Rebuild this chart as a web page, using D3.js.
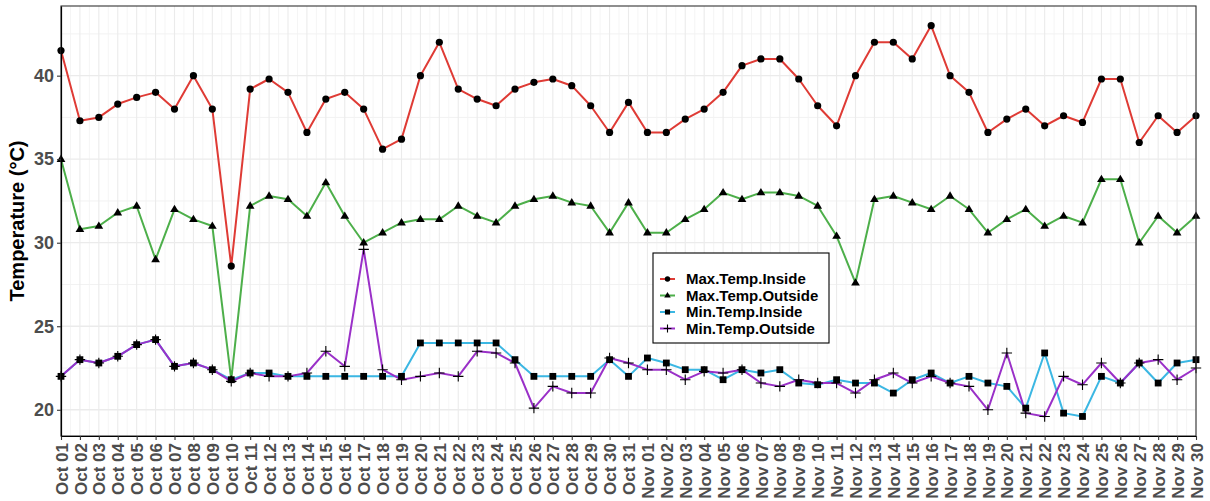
<!DOCTYPE html>
<html>
<head>
<meta charset="utf-8">
<script src="https://cdn.jsdelivr.net/npm/d3@7"></script>
<style>
  html, body { margin: 0; padding: 0; background: #fff; }
  svg { display: block; font-family: "Liberation Sans", Arial, sans-serif; }
</style>
</head>
<body>
<svg id="chart" width="1210" height="501"></svg>
<script>
const dateLabels = [
  "Oct 01","Oct 02","Oct 03","Oct 04","Oct 05","Oct 06","Oct 07","Oct 08","Oct 09","Oct 10",
  "Oct 11","Oct 12","Oct 13","Oct 14","Oct 15","Oct 16","Oct 17","Oct 18","Oct 19","Oct 20",
  "Oct 21","Oct 22","Oct 23","Oct 24","Oct 25","Oct 26","Oct 27","Oct 28","Oct 29","Oct 30","Oct 31",
  "Nov 01","Nov 02","Nov 03","Nov 04","Nov 05","Nov 06","Nov 07","Nov 08","Nov 09","Nov 10",
  "Nov 11","Nov 12","Nov 13","Nov 14","Nov 15","Nov 16","Nov 17","Nov 18","Nov 19","Nov 20",
  "Nov 21","Nov 22","Nov 23","Nov 24","Nov 25","Nov 26","Nov 27","Nov 28","Nov 29","Nov 30"
];

const maxTempInside = [
  41.5,37.3,37.5,38.3,38.7,39.0,38.0,40.0,38.0,28.6,
  39.2,39.8,39.0,36.6,38.6,39.0,38.0,35.6,36.2,40.0,
  42.0,39.2,38.6,38.2,39.2,39.6,39.8,39.4,38.2,36.6,38.4,
  36.6,36.6,37.4,38.0,39.0,40.6,41.0,41.0,39.8,38.2,
  37.0,40.0,42.0,42.0,41.0,43.0,40.0,39.0,36.6,37.4,
  38.0,37.0,37.6,37.2,39.8,39.8,36.0,37.6,36.6,37.6
];
const maxTempOutside = [
  35.0,30.8,31.0,31.8,32.2,29.0,32.0,31.4,31.0,21.8,
  32.2,32.8,32.6,31.6,33.6,31.6,30.0,30.6,31.2,31.4,
  31.4,32.2,31.6,31.2,32.2,32.6,32.8,32.4,32.2,30.6,32.4,
  30.6,30.6,31.4,32.0,33.0,32.6,33.0,33.0,32.8,32.2,
  30.4,27.6,32.6,32.8,32.4,32.0,32.8,32.0,30.6,31.4,
  32.0,31.0,31.6,31.2,33.8,33.8,30.0,31.6,30.6,31.6
];
const minTempInside = [
  22.0,23.0,22.8,23.2,23.9,24.2,22.6,22.8,22.4,21.8,
  22.2,22.2,22.0,22.0,22.0,22.0,22.0,22.0,22.0,24.0,
  24.0,24.0,24.0,24.0,23.0,22.0,22.0,22.0,22.0,23.0,22.0,
  23.1,22.8,22.4,22.4,21.8,22.4,22.2,22.4,21.6,21.5,
  21.8,21.6,21.6,21.0,21.8,22.2,21.6,22.0,21.6,21.4,
  20.1,23.4,19.8,19.6,22.0,21.6,22.8,21.6,22.8,23.0
];
const minTempOutside = [
  22.0,23.0,22.8,23.2,23.9,24.2,22.6,22.8,22.4,21.7,
  22.2,22.0,22.0,22.2,23.5,22.6,29.6,22.4,21.8,22.0,
  22.2,22.0,23.5,23.4,22.8,20.1,21.4,21.0,21.0,23.1,22.8,
  22.4,22.4,21.8,22.3,22.2,22.4,21.6,21.4,21.8,21.6,
  21.6,21.0,21.8,22.2,21.6,22.0,21.6,21.4,20.0,23.4,
  19.8,19.6,22.0,21.5,22.8,21.6,22.8,23.0,21.8,22.5
];

const seriesNames = ["Max.Temp.Inside","Max.Temp.Outside","Min.Temp.Inside","Min.Temp.Outside"];
const seriesValues = [maxTempInside, maxTempOutside, minTempInside, minTempOutside];
const seriesColors = ["#DF3B35","#4DAF4A","#3BB7E3","#9A30C8"];
const seriesShapes = ["circle","triangle","square","plus"];
const yTicks = [20, 25, 30, 35, 40];
const yMinorTicks = [22.5, 27.5, 32.5, 37.5, 42.5];
const yTitle = "Temperature (°C)";

const svg = d3.select("#chart");
const margin = { left: 61, right: 14, top: 6, bottom: 65 };
const W = 1210, H = 501;
const x0 = margin.left, x1 = W - margin.right, y0 = margin.top, y1 = H - margin.bottom;

const idx = d3.range(dateLabels.length);
const x = d3.scaleLinear().domain([0, dateLabels.length - 1]).range([x0, x1]);

const allVals = seriesValues.flat();
const vmin = d3.min(allVals), vmax = d3.max(allVals);
const pad = (vmax - vmin) * 0.05;
const y = d3.scaleLinear().domain([vmin - pad, vmax + pad]).range([y1, y0]);

// panel background
svg.append("rect").attr("x", x0).attr("y", y0).attr("width", x1 - x0).attr("height", y1 - y0).attr("fill", "#fff");

// grid - minor
const grid = svg.append("g");
const xMinor = d3.range(0.5, dateLabels.length - 1, 1);
grid.selectAll("line.xminor").data(xMinor).join("line")
  .attr("x1", d => x(d)).attr("x2", d => x(d)).attr("y1", y0).attr("y2", y1)
  .attr("stroke", "#f2f2f2").attr("stroke-width", 0.8);
grid.selectAll("line.yminor").data(yMinorTicks).join("line")
  .attr("x1", x0).attr("x2", x1).attr("y1", d => y(d)).attr("y2", d => y(d))
  .attr("stroke", "#f2f2f2").attr("stroke-width", 1);
// grid - major
grid.selectAll("line.xmajor").data(idx).join("line")
  .attr("x1", d => x(d)).attr("x2", d => x(d)).attr("y1", y0).attr("y2", y1)
  .attr("stroke", "#ebebeb").attr("stroke-width", 1.1);
grid.selectAll("line.ymajor").data(yTicks).join("line")
  .attr("x1", x0).attr("x2", x1).attr("y1", d => y(d)).attr("y2", d => y(d))
  .attr("stroke", "#ebebeb").attr("stroke-width", 1.3);

// lines
const line = d3.line().x((d, i) => x(i)).y(d => y(d));
const linesG = svg.append("g");
seriesValues.forEach((vals, s) => {
  linesG.append("path").datum(vals).attr("d", line)
    .attr("fill", "none").attr("stroke", seriesColors[s]).attr("stroke-width", 2)
    .attr("stroke-linejoin", "round");
});

// markers
function drawShape(g, shape, cx, cy, scale) {
  scale = scale || 1;
  if (shape === "circle") {
    g.append("circle").attr("cx", cx).attr("cy", cy).attr("r", 3.6 * scale).attr("fill", "#000");
  } else if (shape === "triangle") {
    const r = 4.6 * scale;
    g.append("path").attr("d", `M${cx},${cy - r} L${cx + r * 0.95},${cy + r * 0.6} L${cx - r * 0.95},${cy + r * 0.6} Z`).attr("fill", "#000");
  } else if (shape === "square") {
    const s = 3.4 * scale;
    g.append("rect").attr("x", cx - s).attr("y", cy - s).attr("width", 2 * s).attr("height", 2 * s).attr("fill", "#000");
  } else {
    const s = 5.2 * scale;
    g.append("path").attr("d", `M${cx - s},${cy} H${cx + s} M${cx},${cy - s} V${cx === cx ? cy + s : 0}`)
      .attr("stroke", "#000").attr("stroke-width", 1.1).attr("fill", "none");
  }
}
const ptsG = svg.append("g");
seriesValues.forEach((vals, s) => {
  vals.forEach((v, i) => drawShape(ptsG, seriesShapes[s], x(i), y(v)));
});

// panel border
svg.append("rect").attr("x", x0).attr("y", y0).attr("width", x1 - x0).attr("height", y1 - y0)
  .attr("fill", "none").attr("stroke", "#333").attr("stroke-width", 1.1);

// axes
const xAxis = d3.axisBottom(x).tickValues(idx).tickFormat(i => dateLabels[i]).tickSize(4).tickSizeOuter(0);
const gx = svg.append("g").attr("transform", `translate(0,${y1})`).call(xAxis);
gx.select(".domain").attr("stroke", "#000").attr("stroke-width", 1.2);
gx.selectAll(".tick line").attr("stroke", "#333").attr("stroke-width", 1.1);
gx.selectAll(".tick text")
  .attr("font-family", "'Liberation Sans', Arial, sans-serif")
  .attr("font-size", 17).attr("font-weight", "bold").attr("fill", "#4d4d4d")
  .attr("transform", "rotate(-90)")
  .attr("text-anchor", "end")
  .attr("x", -7).attr("y", 0).attr("dy", "0.36em");

const yAxis = d3.axisLeft(y).tickValues(yTicks).tickSize(4).tickSizeOuter(0);
const gy = svg.append("g").attr("transform", `translate(${x0},0)`).call(yAxis);
gy.select(".domain").attr("stroke", "#000").attr("stroke-width", 1.2);
gy.selectAll(".tick line").attr("stroke", "#333").attr("stroke-width", 1.1);
gy.selectAll(".tick text")
  .attr("font-family", "'Liberation Sans', Arial, sans-serif")
  .attr("font-size", 18).attr("font-weight", "bold").attr("fill", "#4d4d4d")
  .attr("x", -7);

// y title
svg.append("text")
  .attr("transform", `translate(24,${(y0 + y1) / 2}) rotate(-90)`)
  .attr("text-anchor", "middle")
  .attr("font-size", 20).attr("font-weight", "bold").attr("fill", "#000")
  .text(yTitle);

// legend
const leg = svg.append("g").attr("transform", "translate(653,253)");
leg.append("rect").attr("x", 0).attr("y", 0).attr("width", 176).attr("height", 90)
  .attr("fill", "#fff").attr("stroke", "#000").attr("stroke-width", 1.1);
seriesNames.forEach((name, s) => {
  const cy = 26 + s * 16.5;
  leg.append("line").attr("x1", 7).attr("x2", 22).attr("y1", cy).attr("y2", cy)
    .attr("stroke", seriesColors[s]).attr("stroke-width", 2);
  drawShape(leg, seriesShapes[s], 14.5, cy, 0.75);
  leg.append("text").attr("x", 33).attr("y", cy).attr("dy", "0.36em")
    .attr("font-size", 15).attr("font-weight", "bold").attr("fill", "#000")
    .text(name);
});
</script>
</body>
</html>
